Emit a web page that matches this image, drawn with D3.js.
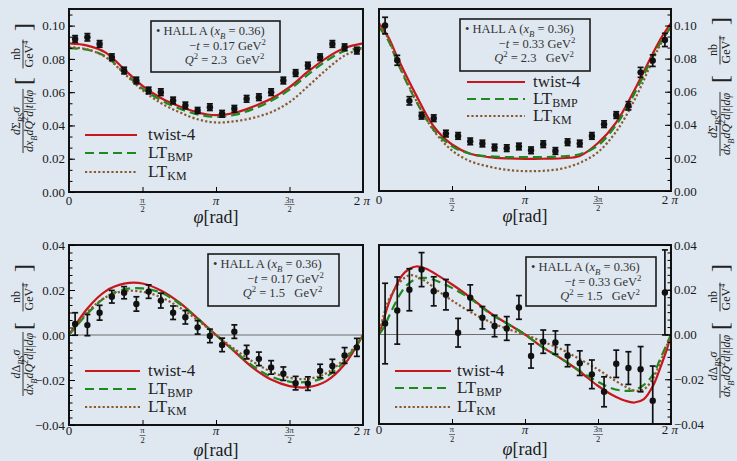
<!DOCTYPE html>
<html>
<head>
<meta charset="utf-8">
<script src="https://cdn.jsdelivr.net/npm/d3@7"></script>
<style>
  body { margin: 0; background: #dfe8f1; }
  svg { display: block; }
  text { font-family: "Liberation Serif", "DejaVu Serif", serif; }
</style>
</head>
<body>
<svg id="chart" width="737" height="461"></svg>
<script>
const PI = Math.PI;

// phi centres of the 24 Hall A bins
const phiBins = [0.131, 0.393, 0.654, 0.916, 1.178, 1.440, 1.702, 1.963, 2.225, 2.487, 2.749, 3.011,
                 3.272, 3.534, 3.796, 4.058, 4.320, 4.581, 4.843, 5.105, 5.367, 5.629, 5.890, 6.152];

// panel A: unpolarized, -t = 0.17, Q2 = 2.3
const sumA = [0.092, 0.093, 0.089, 0.081, 0.073, 0.067, 0.061, 0.060, 0.055, 0.052, 0.049, 0.051,
              0.047, 0.050, 0.056, 0.057, 0.060, 0.067, 0.0715, 0.076, 0.081, 0.089, 0.087, 0.085];
const sumAErr = [0.002, 0.0022, 0.002, 0.002, 0.002, 0.002, 0.002, 0.002, 0.002, 0.002, 0.0018, 0.002,
                 0.002, 0.002, 0.002, 0.002, 0.002, 0.002, 0.002, 0.002, 0.002, 0.002, 0.002, 0.002];

// panel B: unpolarized, -t = 0.33, Q2 = 2.3
const sumB = [0.100, 0.079, 0.0545, 0.0455, 0.044, 0.0347, 0.0333, 0.030, 0.0287, 0.0263, 0.0259, 0.0269,
              0.0246, 0.0283, 0.0242, 0.0295, 0.0287, 0.0333, 0.0404, 0.0459, 0.0515, 0.0717, 0.0788, 0.0913];
const sumBErr = [0.005, 0.003, 0.0025, 0.002, 0.002, 0.002, 0.002, 0.002, 0.002, 0.002, 0.002, 0.002,
                 0.002, 0.002, 0.002, 0.002, 0.002, 0.002, 0.002, 0.002, 0.0025, 0.003, 0.0035, 0.004];

// panel C: helicity difference, -t = 0.17, Q2 = 1.5
const difC = [0.0049, 0.0044, 0.0099, 0.017, 0.0188, 0.0138, 0.0193, 0.0153, 0.0099, 0.0079, 0.0034, -0.0004,
              -0.0044, 0.0015, -0.0076, -0.0106, -0.0144, -0.0172, -0.0214, -0.0216, -0.016, -0.0138, -0.0091, -0.0055];
const difCErr = [0.005, 0.0047, 0.0033, 0.0028, 0.0027, 0.0032, 0.003, 0.0033, 0.003, 0.003, 0.003, 0.003,
                 0.003, 0.003, 0.003, 0.003, 0.003, 0.003, 0.003, 0.003, 0.003, 0.003, 0.0035, 0.004];

// panel D: helicity difference, -t = 0.33, Q2 = 1.5
const difD = [0.0049, 0.0107, 0.0200, 0.0290, 0.0193, 0.0178, 0.0008, 0.0165, 0.0075, 0.0038, 0.0027, 0.0121,
              -0.0096, -0.0032, -0.0036, -0.0095, -0.0128, -0.0178, -0.0256, -0.0131, -0.015, -0.0155, -0.0296, 0.0188];
const difDErr = [0.018, 0.015, 0.0094, 0.0076, 0.0065, 0.0068, 0.0064, 0.0057, 0.005, 0.0048, 0.0053, 0.0053,
                 0.0054, 0.0052, 0.0052, 0.0049, 0.0055, 0.0064, 0.0067, 0.0061, 0.0073, 0.0101, 0.0155, 0.019];

// theory curves
const gridEighth = [0, 0.393, 0.785, 1.178, 1.571, 1.963, 2.356, 2.749, 3.142,
                    3.534, 3.927, 4.320, 4.712, 5.105, 5.498, 5.890, 6.283];
const gridB = [0, 0.2, 0.393, 0.785, 1.178, 1.571, 1.963, 2.356, 2.749, 3.142,
               3.534, 3.927, 4.320, 4.712, 5.105, 5.498, 5.890, 6.083, 6.283];
const gridD = [0, 0.1, 0.2, 0.35, 0.5, 0.65, 0.8, 1.0, 1.3, 1.6, 2.0, 2.4, 2.8, 3.142,
               3.5, 3.9, 4.3, 4.7, 5.0, 5.3, 5.5, 5.7, 5.9, 6.05, 6.2, 6.283];

const twA = [0.0893, 0.0880, 0.0838, 0.0738, 0.0638, 0.0565, 0.0515, 0.0478, 0.0462,
             0.0475, 0.0512, 0.056, 0.063, 0.0723, 0.0805, 0.0865, 0.0893];
const bmpA = [0.0865, 0.0855, 0.0815, 0.0718, 0.0622, 0.0552, 0.0502, 0.0466, 0.0452,
              0.0463, 0.0498, 0.0548, 0.0615, 0.0705, 0.0788, 0.0848, 0.0865];
const kmA = [0.087, 0.0858, 0.081, 0.0713, 0.0612, 0.0535, 0.048, 0.0437, 0.0418,
             0.0425, 0.0445, 0.048, 0.054, 0.0635, 0.0735, 0.082, 0.0865];

const twB = [0.1015, 0.093, 0.081, 0.0587, 0.039, 0.0281, 0.0225, 0.0205, 0.0197, 0.0194,
             0.0195, 0.0198, 0.0212, 0.029, 0.0415, 0.061, 0.083, 0.093, 0.1015];
const bmpB = [0.099, 0.091, 0.078, 0.055, 0.037, 0.027, 0.0225, 0.021, 0.0205, 0.0205,
              0.0205, 0.021, 0.0222, 0.0275, 0.040, 0.059, 0.081, 0.091, 0.099];
const kmB = [0.101, 0.092, 0.079, 0.0555, 0.0365, 0.0245, 0.018, 0.0148, 0.0128, 0.012,
             0.0122, 0.0135, 0.017, 0.0235, 0.036, 0.055, 0.079, 0.090, 0.100];

const twC = [0, 0.0118, 0.0195, 0.0228, 0.0229, 0.0198, 0.0145, 0.0074, 0,
             -0.0073, -0.0145, -0.0198, -0.0227, -0.0232, -0.0205, -0.013, 0];
const bmpC = [0, 0.0095, 0.0168, 0.0203, 0.0207, 0.0188, 0.014, 0.0072, 0,
              -0.007, -0.0137, -0.0185, -0.0207, -0.0208, -0.0185, -0.0115, 0];
const kmC = [0, 0.0102, 0.0168, 0.0195, 0.0192, 0.0168, 0.0123, 0.0066, 0,
             -0.0062, -0.0118, -0.0163, -0.019, -0.0195, -0.017, -0.0105, 0];

const twD = [0, 0.0065, 0.0135, 0.021, 0.0265, 0.0293, 0.0304, 0.0295, 0.026, 0.022, 0.016, 0.0095, 0.0044, 0,
             -0.0054, -0.0105, -0.0162, -0.0228, -0.0268, -0.0296, -0.0304, -0.0289, -0.0228, -0.015, -0.0062, 0];
const bmpD = [0, 0.003, 0.0075, 0.014, 0.0195, 0.023, 0.0248, 0.0253, 0.0235, 0.0205, 0.0155, 0.0092, 0.0044, 0,
              -0.0054, -0.0105, -0.016, -0.021, -0.024, -0.0252, -0.0248, -0.0225, -0.0178, -0.011, -0.004, 0];
const kmD = [0, 0.0085, 0.015, 0.0205, 0.0245, 0.0265, 0.026, 0.0238, 0.019, 0.0148, 0.0097, 0.0055, 0.0022, 0,
             -0.003, -0.0064, -0.0108, -0.0155, -0.0195, -0.0233, -0.0251, -0.0245, -0.0195, -0.0125, -0.0045, 0];

const legendNames = ['twist-4', 'LT', 'LT'];
const legendSubs = ['', 'BMP', 'KM'];
const infoT = ['0.17', '0.33', '0.17', '0.33'];
const infoQ2 = ['2.3', '2.3', '1.5', '1.5'];
const ticksTop = [0, 0.02, 0.04, 0.06, 0.08, 0.10];
const ticksBot = [-0.04, -0.02, 0, 0.02, 0.04];

const lineStyles = [
  { color: '#c8161c', dash: null },
  { color: '#1d8a1d', dash: '9,5' },
  { color: '#8a5a2c', dash: '2.2,2.2' }
];

const svg = d3.select('#chart');
svg.append('rect').attr('width', 737).attr('height', 461).attr('fill', '#dfe8f1');

// append tspans with italic / sub / sup bits
function rich(sel, parts, fs) {
  let cur = 0;
  parts.forEach(p => {
    const off = p.sub ? fs * 0.3 : (p.sup ? -fs * 0.4 : 0);
    const ts = sel.append('tspan').text(p.t).attr('dy', off - cur);
    if (p.it) ts.style('font-style', 'italic');
    if (p.sub || p.sup) ts.style('font-size', (fs * 0.7) + 'px');
    cur = off;
  });
  return sel;
}

function yTitle(L, sym) {
  const t = svg.append('g').attr('transform', 'rotate(-90)')
      .style('font-size', L.fs + 'px').attr('fill', '#222');
  const num = rich(t.append('text').attr('x', -L.fc).attr('y', L.num).attr('text-anchor', 'middle'),
    [{ t: 'd', it: 1 }, { t: sym }, { t: 'BS', it: 1, sub: 1 }, { t: 'σ', it: 1 }], L.fs);
  const den = rich(t.append('text').attr('x', -L.fc).attr('y', L.den).attr('text-anchor', 'middle'),
    [{ t: 'd', it: 1 }, { t: 'x', it: 1 }, { t: 'B', it: 1, sub: 1 }, { t: 'd', it: 1 }, { t: 'Q', it: 1 },
     { t: '2', sup: 1 }, { t: 'd', it: 1 }, { t: '|' }, { t: 't', it: 1 }, { t: '|' }, { t: 'd', it: 1 }, { t: 'φ', it: 1 }], L.fs);
  const fw = Math.max(num.node().getComputedTextLength(), den.node().getComputedTextLength()) + 2;
  t.append('line').attr('x1', -(L.fc + fw / 2)).attr('x2', -(L.fc - fw / 2))
      .attr('y1', L.bar).attr('y2', L.bar).attr('stroke', '#222').attr('stroke-width', 0.9);
  // bracket with units
  t.append('text').attr('x', -(L.bc + L.bw / 2)).attr('y', L.num + 11).attr('text-anchor', 'middle')
      .style('font-size', (L.fs * 2) + 'px').text('[');
  t.append('text').attr('x', -(L.bc - L.bw / 2)).attr('y', L.num + 11).attr('text-anchor', 'middle')
      .style('font-size', (L.fs * 2) + 'px').text(']');
  t.append('text').attr('x', -L.bc).attr('y', L.num).attr('text-anchor', 'middle').text('nb');
  const u = rich(t.append('text').attr('x', -L.bc).attr('y', L.den).attr('text-anchor', 'middle'),
    [{ t: 'GeV' }, { t: '4', sup: 1 }], L.fs);
  const uw = u.node().getComputedTextLength() + 2;
  t.append('line').attr('x1', -(L.bc + uw / 2)).attr('x2', -(L.bc - uw / 2))
      .attr('y1', L.bar).attr('y2', L.bar).attr('stroke', '#222').attr('stroke-width', 0.9);
}

function drawPanel(p, idx) {
  const x = d3.scaleLinear().domain([0, 2 * PI]).range([p.left, p.right]);
  const y = d3.scaleLinear().domain(p.yDomain).range([p.bottom, p.top]);
  const g = svg.append('g');

  g.append('clipPath').attr('id', 'clip' + idx).append('rect')
      .attr('x', p.left).attr('y', p.top).attr('width', p.right - p.left).attr('height', p.bottom - p.top);
  const inner = g.append('g').attr('clip-path', `url(#clip${idx})`);

  if (p.yDomain[0] < 0) {
    inner.append('line').attr('x1', p.left).attr('x2', p.right)
        .attr('y1', y(0)).attr('y2', y(0)).attr('stroke', '#6e6e6e').attr('stroke-width', 1.2);
  }

  const line = d3.line().x(d => x(d[0])).y(d => y(d[1])).curve(d3.curveCatmullRom.alpha(0.5));
  p.curves.forEach((vals, i) => {
    inner.append('path')
        .datum(d3.zip(p.grid, vals))
        .attr('d', line)
        .attr('fill', 'none')
        .attr('stroke', lineStyles[i].color)
        .attr('stroke-width', 2.2)
        .attr('stroke-dasharray', lineStyles[i].dash);
  });

  // data points with error bars
  const pts = d3.zip(phiBins, p.vals, p.errs);
  const eb = inner.append('g').attr('stroke', '#111').attr('stroke-width', 1.7);
  pts.forEach(d => {
    const cx = x(d[0]);
    eb.append('line').attr('x1', cx).attr('x2', cx).attr('y1', y(d[1] - d[2])).attr('y2', y(d[1] + d[2]));
    eb.append('line').attr('x1', cx - 3).attr('x2', cx + 3).attr('y1', y(d[1] - d[2])).attr('y2', y(d[1] - d[2]));
    eb.append('line').attr('x1', cx - 3).attr('x2', cx + 3).attr('y1', y(d[1] + d[2])).attr('y2', y(d[1] + d[2]));
  });
  inner.append('g').selectAll('circle').data(pts).join('circle')
      .attr('cx', d => x(d[0])).attr('cy', d => y(d[1])).attr('r', 3.2).attr('fill', '#111');

  // frame
  g.append('rect').attr('x', p.left).attr('y', p.top)
      .attr('width', p.right - p.left).attr('height', p.bottom - p.top)
      .attr('fill', 'none').attr('stroke', '#111').attr('stroke-width', 2);

  // y axis, ticks pointing inward
  const axX = p.side === 'left' ? p.left : p.right;
  const mk = p.side === 'left' ? d3.axisLeft : d3.axisRight;
  const minor = d3.range(p.yDomain[0], p.yDomain[1] + 1e-9, p.minorStep);
  g.append('g').attr('transform', `translate(${axX},0)`)
      .call(mk(y).tickValues(minor).tickSize(-3.5).tickFormat(''))
      .call(a => a.select('.domain').remove());
  g.append('g').attr('transform', `translate(${axX},0)`)
      .call(mk(y).tickValues(p.yTicks).tickSize(-6).tickPadding(p.side === 'left' ? 4 : 3).tickFormat(d3.format('.2f')))
      .call(a => a.select('.domain').remove())
      .attr('font-family', null).attr('font-size', 13)
      .call(a => a.selectAll('text').attr('fill', '#1a1a1a'));

  // x axis ticks
  g.append('g').attr('transform', `translate(0,${p.bottom})`)
      .call(d3.axisBottom(x).tickValues([PI / 2, PI, 3 * PI / 2]).tickSize(-5).tickFormat(''))
      .call(a => a.select('.domain').remove());

  const xl = g.append('g').attr('fill', '#1a1a1a').attr('text-anchor', 'middle');
  xl.append('text').attr('x', x(0)).attr('y', p.bottom + p.xdy).style('font-size', '13px').text('0');
  xl.append('text').attr('x', x(PI)).attr('y', p.bottom + p.xdy).style('font-size', '13px').style('font-style', 'italic').text('π');
  const two = xl.append('text').attr('x', x(2 * PI) - 1).attr('y', p.bottom + p.xdy).style('font-size', '13px');
  two.append('tspan').text('2 ');
  two.append('tspan').style('font-style', 'italic').text('π');
  [[PI / 2, 'π', 6], [3 * PI / 2, '3π', 10]].forEach(f => {
    xl.append('text').attr('x', x(f[0])).attr('y', p.bottom + p.frac[0]).style('font-size', '8.5px').text(f[1]);
    xl.append('line').attr('x1', x(f[0]) - f[2] / 2).attr('x2', x(f[0]) + f[2] / 2)
        .attr('y1', p.bottom + p.frac[1]).attr('y2', p.bottom + p.frac[1]).attr('stroke', '#222').attr('stroke-width', 0.6);
    xl.append('text').attr('x', x(f[0])).attr('y', p.bottom + p.frac[2]).style('font-size', '8.5px').text('2');
  });
  const ttl = xl.append('text').attr('x', (p.left + p.right) / 2).attr('y', p.bottom + 31).style('font-size', '18px');
  ttl.append('tspan').style('font-style', 'italic').text('φ');
  ttl.append('tspan').text('[rad]');

  // info box
  const [bx, by, bw, bh] = p.box;
  const info = g.append('g').attr('fill', '#333').style('font-size', '12.5px');
  info.append('rect').attr('x', bx).attr('y', by).attr('width', bw).attr('height', bh)
      .attr('fill', 'none').attr('stroke', '#1a1a1a').attr('stroke-width', 1.6);
  rich(info.append('text').attr('x', bx + 5).attr('y', by + 14),
    [{ t: '• HALL A (' }, { t: 'x', it: 1 }, { t: 'B', it: 1, sub: 1 }, { t: ' = 0.36)' }], 12.5);
  rich(info.append('text').attr('x', bx + bw / 2 + 12).attr('y', by + 29).attr('text-anchor', 'middle'),
    [{ t: '−' }, { t: 't', it: 1 }, { t: ' = ' + infoT[idx] + ' GeV' }, { t: '2', sup: 1 }], 12.5);
  rich(info.append('text').attr('x', bx + bw / 2 + 9).attr('y', by + 43).attr('text-anchor', 'middle'),
    [{ t: 'Q', it: 1 }, { t: '2', sup: 1 }, { t: ' = ' + infoQ2[idx] + '\u2002 GeV' }, { t: '2', sup: 1 }], 12.5);

  // curve legend
  const lg = p.leg;
  lineStyles.forEach((s, i) => {
    g.append('line').attr('x1', lg.x1).attr('x2', lg.x2).attr('y1', lg.rows[i]).attr('y2', lg.rows[i])
        .attr('stroke', s.color).attr('stroke-width', 2.2).attr('stroke-dasharray', s.dash);
    const tx = g.append('text').attr('x', lg.tx).attr('y', lg.rows[i] + 5)
        .attr('fill', '#222').style('font-size', '17px');
    tx.append('tspan').text(legendNames[i]);
    if (legendSubs[i]) tx.append('tspan').attr('dy', 3).style('font-size', '12px').text(legendSubs[i]);
  });

  yTitle(p.ylab, p.sym);
}

const panels = [
  { left: 69, right: 363, top: 9, bottom: 192, yDomain: [0, 0.11], yTicks: ticksTop, minorStep: 0.02 / 3,
    side: 'left', sym: 'Σ', vals: sumA, errs: sumAErr, grid: gridEighth, curves: [twA, bmpA, kmA],
    box: [151, 21, 129, 51], leg: { x1: 85, x2: 137, tx: 148, rows: [135, 153, 172] },
    xdy: 13, frac: [10.5, 12.5, 20],
    ylab: { num: 20, bar: 23, den: 33, fc: 121, bc: 54, bw: 54, fs: 12 } },
  { left: 379, right: 671, top: 9, bottom: 191, yDomain: [0, 0.11], yTicks: ticksTop, minorStep: 0.02 / 3,
    side: 'right', sym: 'Σ', vals: sumB, errs: sumBErr, grid: gridB, curves: [twB, bmpB, kmB],
    box: [460, 19, 130, 52], leg: { x1: 467, x2: 525, tx: 533, rows: [82, 99, 116] },
    xdy: 13, frac: [10.5, 12.5, 20],
    ylab: { num: 717, bar: 720, den: 730, fc: 124, bc: 50, bw: 58, fs: 12 } },
  { left: 69, right: 363, top: 245, bottom: 425, yDomain: [-0.04, 0.04], yTicks: ticksBot, minorStep: 0.02 / 6,
    side: 'left', sym: 'Δ', vals: difC, errs: difCErr, grid: gridEighth, curves: [twC, bmpC, kmC],
    box: [208, 254, 131, 52], leg: { x1: 85, x2: 140, tx: 148, rows: [371, 389, 407] },
    xdy: 10, frac: [8, 10.5, 18],
    ylab: { num: 20, bar: 23, den: 33, fc: 364, bc: 297, bw: 58, fs: 12 } },
  { left: 379, right: 671, top: 245, bottom: 424, yDomain: [-0.04, 0.04], yTicks: ticksBot, minorStep: 0.02 / 6,
    side: 'right', sym: 'Δ', vals: difD, errs: difDErr, grid: gridD, curves: [twD, bmpD, kmD],
    box: [526, 257, 130, 49], leg: { x1: 395, x2: 451, tx: 457, rows: [371, 388, 407] },
    xdy: 10, frac: [8, 10.5, 18],
    ylab: { num: 717, bar: 720, den: 730, fc: 366, bc: 297, bw: 58, fs: 12 } }
];

panels.forEach((p, i) => drawPanel(p, i));
</script>
</body>
</html>
